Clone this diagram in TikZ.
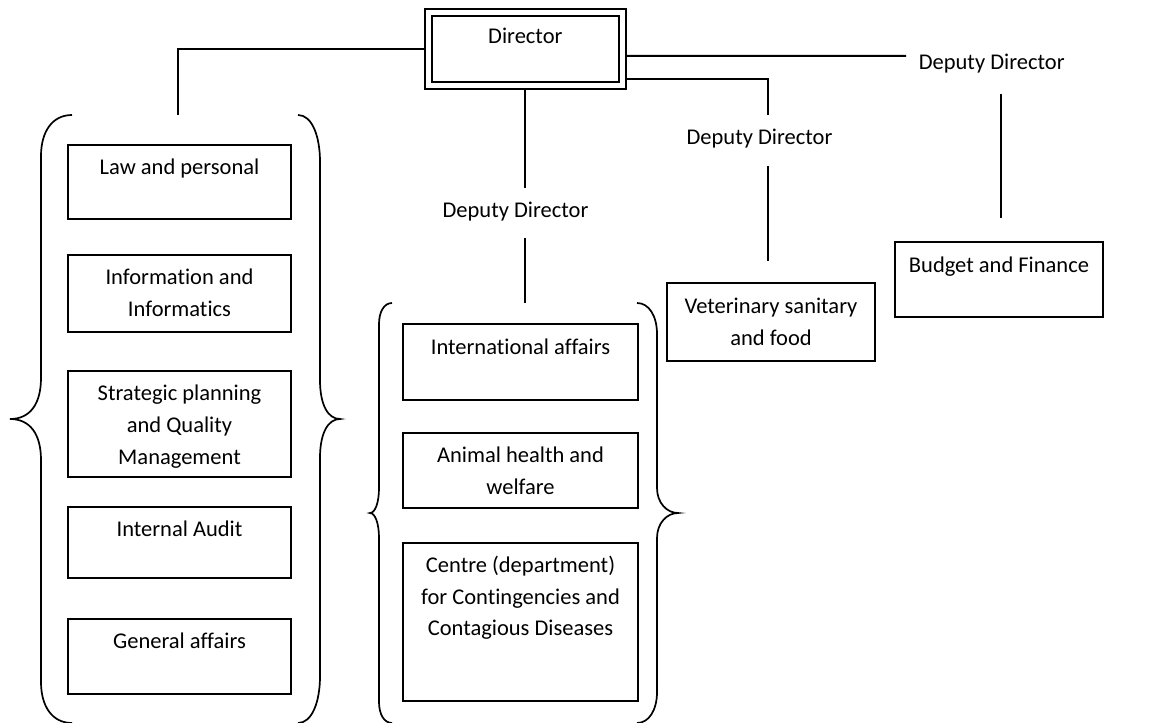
\documentclass[tikz,border=0pt]{standalone}
\usepackage{fontspec}
\setmainfont{Carlito}[Ligatures={NoCommon}]
\newcommand\bx[4]{\parbox[c][#2pt][t]{#1pt}{\centering\rule{0pt}{#3pt}#4\par}}
\begin{document}
\begin{tikzpicture}[x=0.5pt,y=-0.5pt,
  font=\fontsize{11.25}{15.83}\selectfont,
  box/.style={draw, line width=1pt, inner sep=0pt, anchor=north west},
  dirbox/.style={draw, line width=1pt, double, double distance=2.35pt, inner sep=0pt, outer sep=2.175pt, anchor=north west},
  lbl/.style={inner sep=0pt, anchor=base},
  conn/.style={line width=1pt},
  brace/.style={line width=0.85pt}]
\useasboundingbox (0,0) rectangle (1170,722);
\clip (0,0) rectangle (1170,722);

% Director
\node[dirbox] (dir) at (424,8.3) {\bx{97}{36.5}{15.65}{Director}};

% Deputy director labels
\node[lbl] (dd1) at (515.5,217.3) {Deputy Director};
\node[lbl] (dd2) at (759.5,144.3) {Deputy Director};
\node[lbl] (dd3) at (991.7,69.3) {Deputy Director};

% Left group
\node[box] (law) at (67,144.3) {\bx{111.5}{37}{14.75}{Law and personal}};
\node[box] (info) at (67,254.3) {\bx{111.5}{38.3}{14.75}{Information and\\Informatics}};
\node[box] (strat) at (67,370) {\bx{111.5}{52.8}{14.9}{Strategic planning\\and Quality\\Management}};
\node[box] (audit) at (67,506) {\bx{111.5}{35.7}{14.75}{Internal Audit}};
\node[box] (gen) at (67,617.7) {\bx{111.5}{37.5}{14.75}{General affairs}};

% Middle group
\node[box] (intl) at (402.3,322.7) {\bx{117.2}{38.2}{15.3}{International affairs}};
\node[box] (anim) at (402.3,431.7) {\bx{117.2}{37.5}{14.9}{Animal health and\\welfare}};
\node[box] (cent) at (402.3,541.7) {\bx{117.2}{79.2}{14.9}{Centre (department)\\for Contingencies and\\Contagious Diseases}};

% Right boxes
\node[box] (vet) at (666,281.7) {\bx{104}{39.2}{15.5}{Veterinary sanitary\\and food}};
\node[box] (bud) at (894.3,240.7) {\bx{103.7}{37.5}{15.2}{Budget and Finance}};

% Connector coordinates
\coordinate (lb) at (178,115);
\coordinate (m1) at (525,188.3);
\coordinate (m2) at (525,238.3);
\coordinate (m3) at (525,303.3);
\coordinate (r2) at (767.7,115);
\coordinate (r2a) at (767.7,165.7);
\coordinate (r2b) at (767.7,260.7);
\coordinate (r3) at (906,56);
\coordinate (r3a) at (1000.7,94);
\coordinate (r3b) at (1000.7,218);

% Connectors
\draw[conn] (dir.west) -| (lb);
\draw[conn] (dir.south -| m1) -- (m1);
\draw[conn] (m2) -- (m3);
\draw[conn] ([yshift=-14.9pt]dir.east) -| (r2);
\draw[conn] (r2a) -- (r2b);
\draw[conn] ([yshift=-3.4pt]dir.east) -- (r3);
\draw[conn] (r3a) -- (r3b);

% Left braces
\draw[brace] (72,115) .. controls (52,115) and (41,132) .. (41,156)
  -- (41,378) .. controls (41,404) and (30,419) .. (10,419)
  .. controls (30,419) and (41,434) .. (41,460)
  -- (41,682) .. controls (41,706) and (52,723) .. (72,723);
\draw[brace] (298,115) .. controls (312,115) and (320,136) .. (320,162)
  -- (320,380) .. controls (320,405) and (328,419) .. (340,419)
  .. controls (328,419) and (320,433) .. (320,458)
  -- (320,676) .. controls (320,702) and (312,723) .. (298,723);

% Middle braces
\draw[brace] (392,303) .. controls (384,303) and (379,312) .. (379,324)
  -- (379,488) .. controls (379,503) and (375,513) .. (370,513)
  .. controls (375,513) and (379,523) .. (379,538)
  -- (379,702) .. controls (379,714) and (384,723) .. (392,723);
\draw[brace] (637,303) .. controls (649,303) and (657,316) .. (657,334)
  -- (657,488) .. controls (657,503) and (667,513) .. (678,513)
  .. controls (667,513) and (657,523) .. (657,538)
  -- (657,692) .. controls (657,710) and (649,723) .. (637,723);
\end{tikzpicture}
\end{document}
